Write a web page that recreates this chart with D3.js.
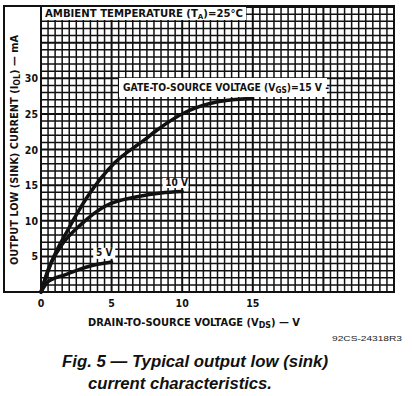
<!DOCTYPE html>
<html>
<head>
<meta charset="utf-8">
<script src="https://cdn.jsdelivr.net/npm/d3@7"></script>
<style>
  body { margin: 0; background: #fff; }
  svg { display: block; }
  .lbl { font-family: "DejaVu Sans Condensed", "DejaVu Sans", sans-serif; font-weight: bold; fill: #111; }
  .cap { font-family: "Liberation Sans", Arial, sans-serif; font-weight: bold; font-style: italic; fill: #111; }
</style>
</head>
<body>
<div class="chart"></div>
<script>
var svgWidth = 412;
var svgHeight = 396;

// curve readings, drain-to-source voltage (V) vs sink current (mA)
var vds15 = [0, 0.7, 1.9, 3.3, 5.2, 7.3, 8.2, 10.3, 12.5, 15];
var iol15 = [0, 4.0, 8.7, 13.4, 18.1, 21.3, 22.7, 25.3, 26.7, 27.2];
var vds10 = [0, 0.5, 1.4, 2.9, 4.5, 6.9, 8.5, 10];
var iol10 = [0, 3.1, 6.4, 9.6, 12.0, 13.4, 13.9, 14.1];
var vds5 = [0, 0.5, 1.7, 3.3, 5];
var iol5 = [0, 1.45, 2.4, 3.55, 4.2];

var xTicks = [0, 5, 10, 15];
var yTicks = [5, 10, 15, 20, 25, 30];

var svg = d3.select(".chart")
  .append("svg")
  .attr("width", svgWidth)
  .attr("height", svgHeight);

var x = d3.scaleLinear().domain([0, 25]).range([41, 394]);
var y = d3.scaleLinear().domain([0, 40]).range([292, 7]);

// outer frame (holds the y labels)
svg.append("rect")
  .attr("x", 4).attr("y", 6)
  .attr("width", 390).attr("height", 286)
  .attr("fill", "#fff")
  .attr("stroke", "#111")
  .attr("stroke-width", 2);

// grid: 0.5 V by 1 mA
var grid = svg.append("g").attr("stroke", "#111");
grid.selectAll("line.v")
  .data(d3.range(0, 25.01, 0.5))
  .enter().append("line")
  .attr("class", "v")
  .attr("x1", d => x(d)).attr("x2", d => x(d))
  .attr("y1", y(40)).attr("y2", y(0))
  .attr("stroke-width", d => d % 5 === 0 ? 2 : 1.5);
grid.selectAll("line.h")
  .data(d3.range(0, 40.01, 1))
  .enter().append("line")
  .attr("class", "h")
  .attr("x1", x(0)).attr("x2", x(25))
  .attr("y1", d => y(d)).attr("y2", d => y(d))
  .attr("stroke-width", d => d % 5 === 0 ? 2 : 1.5);

// axes text
svg.selectAll("text.xt")
  .data(xTicks)
  .enter().append("text")
  .attr("class", "lbl")
  .attr("x", d => x(d))
  .attr("y", 307)
  .attr("text-anchor", "middle")
  .attr("font-size", 10.5)
  .text(d => d);

svg.selectAll("text.yt")
  .data(yTicks)
  .enter().append("text")
  .attr("class", "lbl")
  .attr("x", 38)
  .attr("y", d => y(d) + 4)
  .attr("text-anchor", "end")
  .attr("font-size", 10.5)
  .text(d => d);

var xTitle = svg.append("text")
  .attr("class", "lbl")
  .attr("x", 194).attr("y", 326)
  .attr("text-anchor", "middle")
  .attr("font-size", 10)
  .attr("textLength", 212).attr("lengthAdjust", "spacingAndGlyphs");
xTitle.append("tspan").text("DRAIN-TO-SOURCE VOLTAGE (V");
xTitle.append("tspan").attr("font-size", 8).attr("dy", 2).text("DS");
xTitle.append("tspan").attr("dy", -2).text(") \u2014 V");

var yTitle = svg.append("text")
  .attr("class", "lbl")
  .attr("transform", "translate(18,150) rotate(-90)")
  .attr("text-anchor", "middle")
  .attr("font-size", 10)
  .attr("textLength", 230).attr("lengthAdjust", "spacingAndGlyphs");
yTitle.append("tspan").text("OUTPUT LOW (SINK) CURRENT (I");
yTitle.append("tspan").attr("font-size", 8).attr("dy", 2).text("OL");
yTitle.append("tspan").attr("dy", -2).text(") \u2014 mA");

// label boxes on the grid
function boxLabel(bx, by, bw, bh) {
  svg.append("rect")
    .attr("x", bx).attr("y", by)
    .attr("width", bw).attr("height", bh)
    .attr("fill", "#fff");
}

boxLabel(x(8.6), y(16), 26, 10);
boxLabel(x(3.7), y(6.2), 22, 11);

// curves
var line = d3.line()
  .x(d => x(d[0]))
  .y(d => y(d[1]))
  .curve(d3.curveMonotoneX);

var curves = [d3.zip(vds15, iol15), d3.zip(vds10, iol10), d3.zip(vds5, iol5)];
svg.selectAll("path.curve")
  .data(curves)
  .enter().append("path")
  .attr("class", "curve")
  .attr("d", line)
  .attr("fill", "none")
  .attr("stroke", "#111")
  .attr("stroke-width", 3.5)
  .attr("stroke-linecap", "round");

svg.append("text")
  .attr("class", "lbl")
  .attr("x", x(8.8)).attr("y", y(14.9))
  .attr("font-size", 10)
  .text("10 V");

svg.append("text")
  .attr("class", "lbl")
  .attr("x", x(3.9)).attr("y", y(5.0))
  .attr("font-size", 10)
  .text("5 V");

boxLabel(42, 7, 204, 13);
var amb = svg.append("text")
  .attr("class", "lbl")
  .attr("x", 45).attr("y", 17)
  .attr("font-size", 10)
  .attr("textLength", 198).attr("lengthAdjust", "spacingAndGlyphs");
amb.append("tspan").text("AMBIENT TEMPERATURE (T");
amb.append("tspan").attr("font-size", 7).attr("dy", 2).text("A");
amb.append("tspan").attr("dy", -2).text(")=25\u00B0C");

boxLabel(119, 78, 208, 19);
var gate = svg.append("text")
  .attr("class", "lbl")
  .attr("x", 123).attr("y", 91)
  .attr("font-size", 10)
  .attr("textLength", 206).attr("lengthAdjust", "spacingAndGlyphs");
gate.append("tspan").text("GATE-TO-SOURCE VOLTAGE (V");
gate.append("tspan").attr("font-size", 8).attr("dy", 2).text("GS");
gate.append("tspan").attr("dy", -2).text(")=15 V -");

// drawing number
svg.append("text")
  .attr("x", 402).attr("y", 341)
  .attr("text-anchor", "end")
  .attr("font-family", "Liberation Sans, Arial, sans-serif")
  .attr("font-size", 8)
  .attr("fill", "#222")
  .attr("textLength", 70).attr("lengthAdjust", "spacingAndGlyphs")
  .text("92CS-24318R3");

// caption
svg.append("text")
  .attr("class", "cap")
  .attr("x", 62).attr("y", 367)
  .attr("font-size", 16)
  .attr("textLength", 266).attr("lengthAdjust", "spacingAndGlyphs")
  .text("Fig. 5 \u2014  Typical output low (sink)");
svg.append("text")
  .attr("class", "cap")
  .attr("x", 88).attr("y", 389)
  .attr("font-size", 16)
  .attr("textLength", 184).attr("lengthAdjust", "spacingAndGlyphs")
  .text("current characteristics.");
</script>
</body>
</html>
